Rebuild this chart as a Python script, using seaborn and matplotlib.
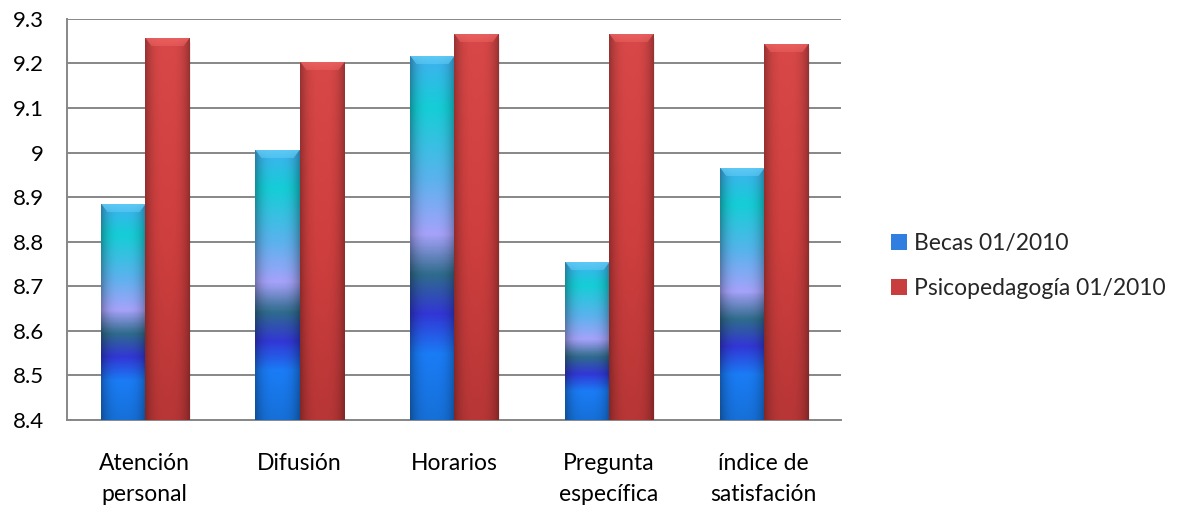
import numpy as np
import pandas as pd
import matplotlib
matplotlib.use('Agg')
import matplotlib.pyplot as plt
import seaborn as sns
from matplotlib.colors import LinearSegmentedColormap, to_rgb
from matplotlib.patches import Patch

# datos
categorias = ['Atención\npersonal', 'Difusión', 'Horarios', 'Pregunta\nespecífica', 'índice de\nsatisfación']
becas = [8.884, 9.005, 9.215, 8.754, 8.965]
psico = [9.256, 9.203, 9.265, 9.265, 9.243]
series = ['Becas 01/2010', 'Psicopedagogía 01/2010']
yticks = [8.4, 8.5, 8.6, 8.7, 8.8, 8.9, 9.0, 9.1, 9.2, 9.3]
ytick_labels = ['8.4', '8.5', '8.6', '8.7', '8.8', '8.9', '9', '9.1', '9.2', '9.3']

df = pd.DataFrame({
    'categoria': categorias * 2,
    'valor': becas + psico,
    'serie': [series[0]] * len(becas) + [series[1]] * len(psico),
})

sns.set_theme(style='white')
plt.rcParams['font.family'] = ['Lato', 'DejaVu Sans']

fig = plt.figure(figsize=(11.83, 5.11), dpi=100)
ax = fig.add_axes([0.057, 0.178, 0.654, 0.785])

sns.barplot(data=df, x='categoria', y='valor', hue='serie',
            palette=['#2a8ae0', '#d04040'], width=0.57, ax=ax,
            legend=False, zorder=2)

ymin, ymax = 8.4, 9.3

# degradados tipo Excel
azul = LinearSegmentedColormap.from_list('azul', [
    (0.00, '#40b0f0'), (0.14, '#14ced6'), (0.34, '#5cb2ee'),
    (0.49, '#a6a2fa'), (0.60, '#2f6c8c'), (0.71, '#3236d6'),
    (0.82, '#1a7cf6'), (1.00, '#1670d8')])
rojo = LinearSegmentedColormap.from_list('rojo', [
    (0.0, '#d94848'), (0.5, '#d03f3f'), (1.0, '#b83636')])


def relleno(cmap, nfilas, cap_col):
    t = np.linspace(0, 1, nfilas)
    col = cmap(t)[:, :3]
    xs = np.linspace(-1, 1, 60)
    sombra = 1 - 0.3 * np.abs(xs) ** 3
    img = col[:, None, :] * sombra[None, :, None]
    cap = min(8, nfilas)
    cc = np.array(to_rgb(cap_col))
    for r in range(cap):
        borde = r / cap
        mezcla = 0.85 - 0.35 * borde
        for j, x in enumerate(xs):
            if abs(x) < 1 - 0.3 * borde:
                img[r, j] = mezcla * cc + (1 - mezcla) * img[r, j]
    return np.clip(img, 0, 1)


px_por_unidad = 0.785 * 511 / (ymax - ymin)
for i, p in enumerate(ax.patches):
    h = p.get_height()
    if h <= ymin:
        continue
    x0 = p.get_x()
    w = p.get_width()
    filas = max(int((h - ymin) * px_por_unidad), 10)
    if p.get_facecolor()[0] < 0.5:
        img = relleno(azul, filas, '#62cdf6')
    else:
        img = relleno(rojo, filas, '#ec6262')
    # sombra suave
    ax.add_patch(plt.Rectangle((x0 + w * 0.04, ymin), w, h - ymin - 0.008,
                               color='#000000', alpha=0.08, zorder=2.5, lw=0))
    ax.imshow(img, extent=[x0, x0 + w, ymin, h], aspect='auto',
              zorder=3, interpolation='bilinear')
    p.set_alpha(0)

ax.set_xlim(-0.5, len(categorias) - 0.5)
ax.set_ylim(ymin, ymax)
ax.set_yticks(yticks)
ax.set_yticklabels(ytick_labels)
ax.yaxis.grid(True, color='#878787', lw=1.4, zorder=0)
ax.set_axisbelow(True)
ax.set_xlabel('')
ax.set_ylabel('')
ax.tick_params(axis='y', length=0, pad=17, labelsize=16, labelcolor='black')
ax.tick_params(axis='x', length=0, pad=24, labelsize=16.5, labelcolor='black')
for lab in ax.get_xticklabels():
    lab.set_linespacing(1.55)
for s in ['top', 'right']:
    ax.spines[s].set_visible(False)
for s in ['left', 'bottom']:
    ax.spines[s].set_color('#878787')
    ax.spines[s].set_linewidth(1.4)

handles = [Patch(facecolor='#2f7ee0', edgecolor='none'),
           Patch(facecolor='#c83e3e', edgecolor='none')]
fig.legend(handles, series, loc='center left', bbox_to_anchor=(0.736, 0.48),
           frameon=False, fontsize=16.5, handlelength=0.7, handleheight=0.7,
           handletextpad=0.3, labelspacing=1.05)

fig.savefig('out.png', dpi=100)
